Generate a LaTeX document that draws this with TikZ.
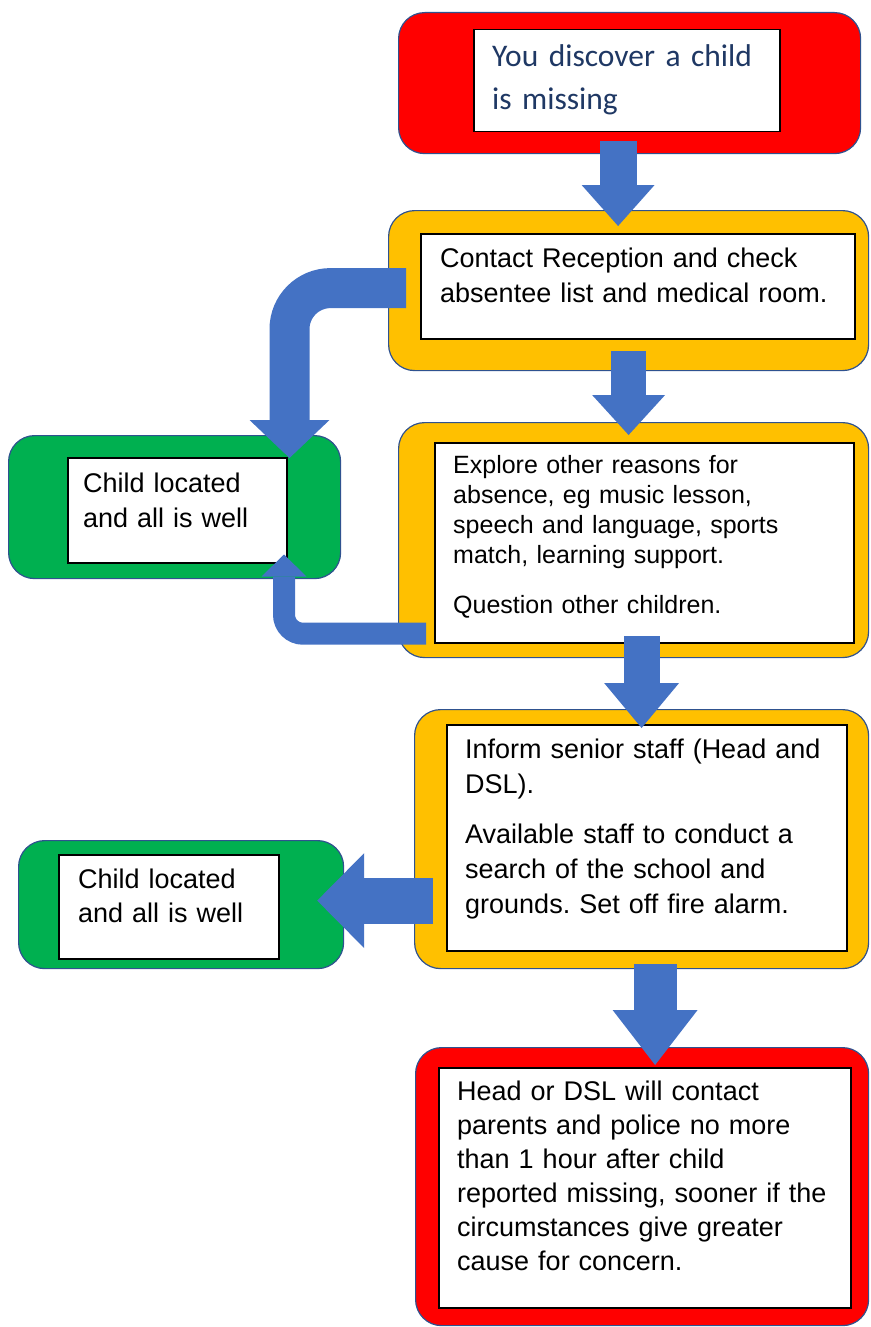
\documentclass[tikz,border=0pt]{standalone}
\usepackage{fontspec}
\setmainfont{Liberation Sans}
\newfontfamily\calibri{Carlito}
\usepackage{xcolor}
\usetikzlibrary{arrows.meta}
\definecolor{alarmred}{RGB}{255,0,0}
\definecolor{amber}{RGB}{255,192,0}
\definecolor{safegreen}{RGB}{0,176,80}
\definecolor{arrowblue}{RGB}{68,114,196}
\definecolor{rimblue}{RGB}{47,82,143}
\definecolor{navy}{RGB}{31,56,100}
\frenchspacing

\begin{document}
\begin{tikzpicture}[x=1pt, y=-1pt,
  outerbox/.style={draw=rimblue, line width=1.2pt, fill=#1, rounded corners=26pt, anchor=north west, inner sep=0pt},
  card/.style={draw=black, line width=1.5pt, fill=white, anchor=north west, inner sep=0pt},
  words/.style={anchor=base west, inner sep=0pt, text width=400pt, align=left, font=\fontsize{27}{35}\selectfont},
  flow/.style n args={3}{draw=arrowblue, line width=#1pt, -{Triangle[width=#2pt, length=#3pt, line width=0pt]}}]
  \useasboundingbox (0,0) rectangle (870,1327);

  \node[outerbox=alarmred, minimum width=462pt, minimum height=141pt] (discover) at (398,12) {};
  \node[card, minimum width=306pt, minimum height=102pt] (discovercard) at (473,29) {};
  \node[words, font=\calibri\fontsize{31.5}{43}\selectfont, text=navy] (discovertext) at (492,67) {You discover a child\\is missing};

  \node[outerbox=amber, minimum width=480pt, minimum height=160pt] (contact) at (388,210) {};
  \node[card, minimum width=434pt, minimum height=105pt] (contactcard) at (420,233) {};
  \node[words] (contacttext) at (440,267) {Contact Reception and check\\absentee list and medical room.};

  \node[outerbox=safegreen, minimum width=332pt, minimum height=143pt] (found1) at (8,435) {};
  \node[card, minimum width=219pt, minimum height=105pt] (found1card) at (67,457) {};
  \node[words] (found1text) at (83,492) {Child located\\and all is well};

  \node[outerbox=amber, minimum width=470pt, minimum height=235pt] (explore) at (398,422) {};
  \node[card, minimum width=419pt, minimum height=200pt] (explorecard) at (434,442) {};
  \node[words, font=\fontsize{25}{30}\selectfont] (exploretext) at (453,473) {Explore other reasons for\\absence, eg music lesson,\\speech and language, sports\\match, learning support.\\[20pt]Question other children.};

  \node[outerbox=amber, minimum width=454pt, minimum height=259pt] (inform) at (414,709) {};
  \node[card, minimum width=400pt, minimum height=226pt] (informcard) at (446,724) {};
  \node[words] (informtext) at (465,758) {Inform senior staff (Head and\\DSL).\\[15pt]Available staff to conduct a\\search of the school and\\grounds. Set off fire alarm.};

  \node[outerbox=safegreen, minimum width=325pt, minimum height=128pt] (found2) at (18,840) {};
  \node[card, minimum width=220pt, minimum height=104pt] (found2card) at (58,854) {};
  \node[words, font=\fontsize{27}{34}\selectfont] (found2text) at (78,888) {Child located\\and all is well};

  \node[outerbox=alarmred, minimum width=453pt, minimum height=278pt] (police) at (415,1047) {};
  \node[card, minimum width=412pt, minimum height=240pt] (policecard) at (438,1067) {};
  \node[words, font=\fontsize{27}{34}\selectfont] (policetext) at (457,1100) {Head or DSL will contact\\parents and police no more\\than 1 hour after child\\reported missing, sooner if the\\circumstances give greater\\cause for concern.};

  \draw[flow={37}{73}{41}] ([xshift=-11.5pt,yshift=13pt]discover.south) coordinate (a1) -- ([yshift=-16pt]contact.north -| a1);
  \draw[flow={35}{73}{40}] ([yshift=20pt]contact.south) coordinate (a2) -- ([yshift=-13pt]explore.north -| a2);
  \draw[flow={36}{75}{45}] ([xshift=8pt,yshift=22pt]explore.south) coordinate (a3) -- ([yshift=-19pt]inform.north -| a3);
  \draw[flow={43}{85}{55}] ([xshift=13.5pt,yshift=5pt]inform.south) coordinate (a4) -- ([yshift=-18pt]police.north -| a4);
  \coordinate (a5) at ([xshift=-27pt,yshift=4pt]found2.east);
  \draw[flow={46}{95}{47}] ([xshift=19pt]inform.west |- a5) -- (a5);
  \draw[flow={40}{80}{38}, rounded corners=41pt] ([xshift=18pt,yshift=2.5pt]contact.west) -| ([xshift=2pt,yshift=-1pt]found1card.north east);
  \draw[flow={22}{45}{22}, rounded corners=19pt] ([xshift=28pt,yshift=24.5pt]explore.south west) -| ([xshift=-3.5pt,yshift=9pt]found1card.south east);
\end{tikzpicture}
\end{document}
